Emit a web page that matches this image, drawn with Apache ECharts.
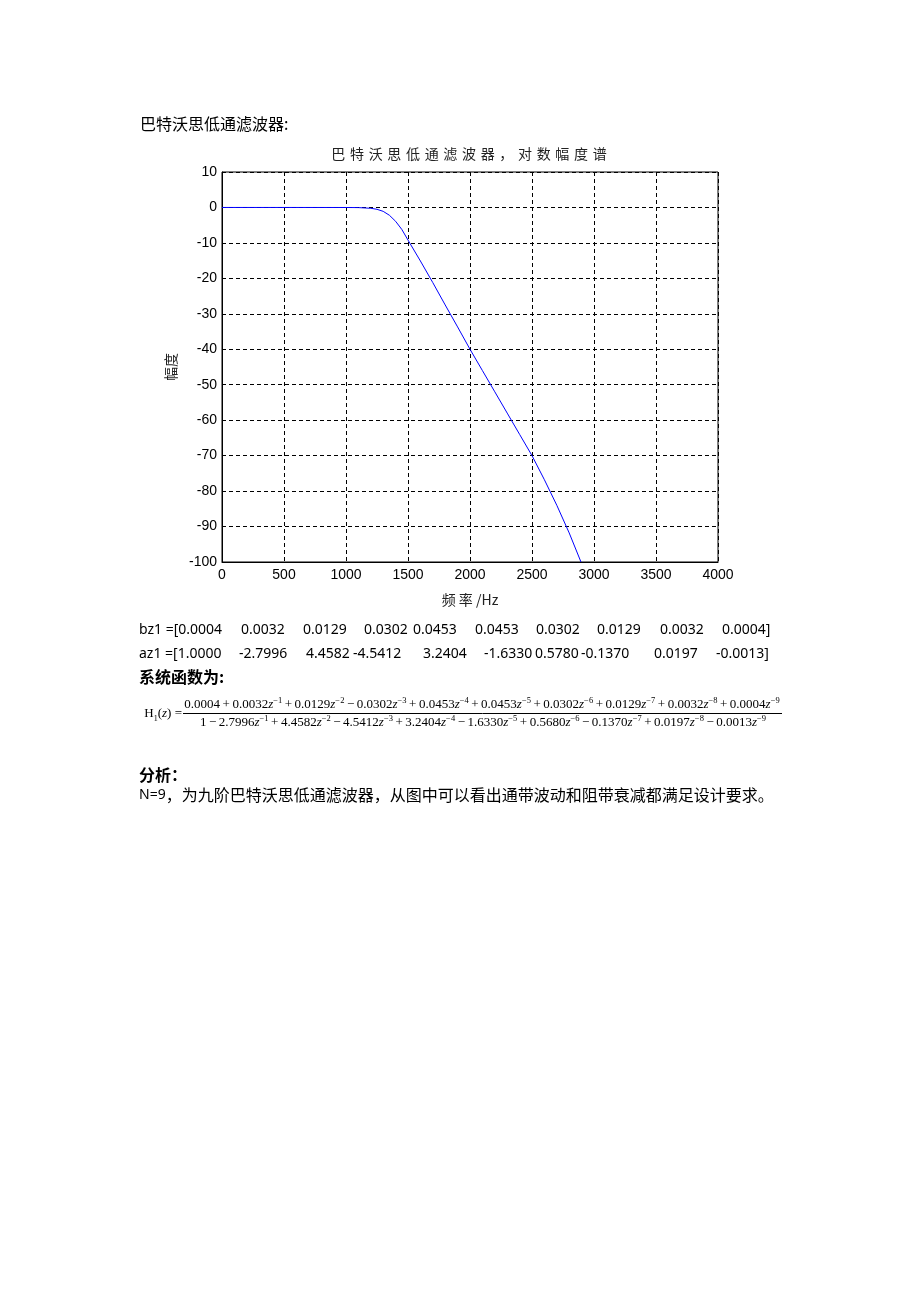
<!DOCTYPE html>
<html><head><meta charset="utf-8">
<script src="https://cdn.jsdelivr.net/npm/echarts@6/dist/echarts.min.js"></script>
<style>html,body{margin:0;padding:0;background:#fff}#c{width:920px;height:1302px}</style>
</head><body><div id="c"></div>
<script>
// ---- chart data ----
var freqHz = [0, 500, 1000, 1100, 1200, 1250, 1300, 1350, 1400, 1450, 1500, 1600, 1700, 1800, 1900, 2000, 2100, 2200, 2300, 2400, 2500, 2600, 2700, 2800, 2895];
var magDb  = [0, 0, -0.01, -0.04, -0.23, -0.52, -1.1, -2.2, -3.9, -6.2, -9.2, -15.1, -21.2, -27.5, -33.7, -40.0, -46.0, -52.0, -58.0, -64.0, -70.0, -76.8, -84.0, -91.8, -100];
var xTicks = [0, 500, 1000, 1500, 2000, 2500, 3000, 3500, 4000];
var yTicks = [10, 0, -10, -20, -30, -40, -50, -60, -70, -80, -90, -100];

// ---- text data ----
var bz1 = ['0.0004', '0.0032', '0.0129', '0.0302', '0.0453', '0.0453', '0.0302', '0.0129', '0.0032', '0.0004'];
var az1 = ['1.0000', '-2.7996', '4.4582', '-4.5412', '3.2404', '-1.6330', '0.5780', '-0.1370', '0.0197', '-0.0013'];
var numCoef = ['0.0004', '0.0032', '0.0129', '0.0302', '0.0453', '0.0453', '0.0302', '0.0129', '0.0032', '0.0004'];
var numOps  = ['+', '+', '\u2212', '+', '+', '+', '+', '+', '+'];
var denCoef = ['1', '2.7996', '4.4582', '4.5412', '3.2404', '1.6330', '0.5680', '0.1370', '0.0197', '0.0013'];
var denOps  = ['\u2212', '+', '\u2212', '+', '\u2212', '+', '\u2212', '+', '\u2212'];
var titleText = '巴特沃思低通滤波器，对数幅度谱';

// ---- layout (token x positions) ----
var bzX = [139, 241, 303, 364, 413, 475, 536, 597, 660, 722];
var azX = [139, 239, 306, 353, 423, 484, 535, 581, 654, 716];

var pairs = freqHz.map(function (f, i) { return [f, magDb[i]]; });

var latin = '"Noto Sans", "Open Sans", sans-serif';
var cjk = '"Noto Sans CJK SC", sans-serif';

var graphics = [];
function txt(t, x, y, opts) {
  opts = opts || {};
  graphics.push({
    type: 'text', silent: true,
    style: Object.assign({
      text: t, x: x, y: y, fill: '#000',
      fontSize: 16, fontFamily: cjk,
      align: 'left', verticalAlign: 'middle'
    }, opts)
  });
}
txt('巴特沃思低通滤波器:', 140, 124);
// MATLAB-style spaced title
txt(titleText.split('').join('\u2004'), 469, 154, { align: 'center', fontSize: 14, fill: '#222' });

bz1.forEach(function (v, i) {
  var t = v;
  if (i === 0) t = 'bz1 =[' + t;
  if (i === bz1.length - 1) t = t + ']';
  txt(t, bzX[i], 630, { fontFamily: latin, fontSize: 14 });
});
az1.forEach(function (v, i) {
  var t = v;
  if (i === 0) t = 'az1 =[' + t;
  if (i === az1.length - 1) t = t + ']';
  txt(t, azX[i], 654, { fontFamily: latin, fontSize: 14 });
});
txt('系统函数为:', 139, 677, { fontWeight: 'bold' });
txt('分析：', 139, 775, { fontWeight: 'bold' });
graphics.push({
  type: 'text', silent: true,
  style: {
    text: '{a|N=9}{b|，为九阶巴特沃思低通滤波器，从图中可以看出通带波动和阻带衰减都满足设计要求。}',
    x: 139, y: 795, fill: '#000', align: 'left', verticalAlign: 'middle',
    rich: {
      a: { fontFamily: latin, fontSize: 14, fill: '#000' },
      b: { fontFamily: cjk, fontSize: 16, fill: '#000' }
    }
  }
});

// formula
var serif = '"Liberation Serif", "DejaVu Serif", serif';
var richF = {
  n: { fontFamily: serif, fontSize: 13, lineHeight: 17, fill: '#000' },
  o: { fontFamily: serif, fontSize: 13, lineHeight: 17, padding: [0, 2.5], fill: '#000' },
  z: { fontFamily: serif, fontSize: 13, lineHeight: 17, fontStyle: 'italic', fill: '#000' },
  s: { fontFamily: serif, fontSize: 8.5, lineHeight: 9, verticalAlign: 'top', fill: '#000' },
  h: { fontFamily: serif, fontSize: 13, lineHeight: 17, fill: '#000' },
  hs: { fontFamily: serif, fontSize: 8, lineHeight: 8, verticalAlign: 'bottom', fill: '#000' },
  hz: { fontFamily: serif, fontSize: 13, lineHeight: 17, fontStyle: 'italic', fill: '#000' }
};
function buildPoly(coefs, ops) {
  var s = '{n|' + coefs[0] + '}';
  for (var i = 1; i < coefs.length; i++) {
    s += '{o|' + ops[i - 1] + '}{n|' + coefs[i] + '}{z|z}{s|\u2212' + i + '}';
  }
  return s;
}
graphics.push({ type: 'text', silent: true, style: { text: buildPoly(numCoef, numOps), x: 482, y: 705, align: 'center', verticalAlign: 'middle', rich: richF } });
graphics.push({ type: 'text', silent: true, style: { text: buildPoly(denCoef, denOps), x: 483, y: 723, align: 'center', verticalAlign: 'middle', rich: richF } });
graphics.push({ type: 'line', silent: true, shape: { x1: 183, y1: 713.5, x2: 782, y2: 713.5 }, style: { stroke: '#000', lineWidth: 1 } });
graphics.push({ type: 'text', silent: true, style: { text: '{h|H}{hs|1}{h|(}{hz|z}{h|) =}', x: 182, y: 714, align: 'right', verticalAlign: 'middle', rich: richF } });

var chart = echarts.init(document.getElementById('c'), null, { renderer: 'canvas' });
var plain = function (v) { return String(v); };
chart.setOption({
  backgroundColor: '#fff',
  animation: false,
  grid: { left: 222, top: 172, width: 496, height: 390, show: true, borderColor: '#000', borderWidth: 1, backgroundColor: '#fff' },
  xAxis: {
    type: 'value', min: xTicks[0], max: xTicks[xTicks.length - 1], interval: xTicks[1] - xTicks[0],
    name: '频 率 /Hz', nameLocation: 'middle', nameGap: 31,
    nameTextStyle: { fontFamily: cjk, fontSize: 14, color: '#222' },
    axisLine: { show: true, onZero: false, lineStyle: { color: '#000', width: 1 } },
    axisTick: { show: false },
    axisLabel: { color: '#000', fontFamily: '"Liberation Sans", Arial, sans-serif', fontSize: 14, margin: 6, formatter: plain },
    splitLine: { show: true, lineStyle: { color: '#000', width: 1, type: [4, 3] } }
  },
  yAxis: {
    type: 'value', min: yTicks[yTicks.length - 1], max: yTicks[0], interval: yTicks[0] - yTicks[1],
    name: '幅度', nameLocation: 'middle', nameGap: 44, nameRotate: 90,
    nameTextStyle: { fontFamily: cjk, fontSize: 14, color: '#222' },
    axisLine: { show: true, onZero: false, lineStyle: { color: '#000', width: 1 } },
    axisTick: { show: false },
    axisLabel: { color: '#000', fontFamily: '"Liberation Sans", Arial, sans-serif', fontSize: 14, margin: 5, formatter: plain },
    splitLine: { show: true, lineStyle: { color: '#000', width: 1, type: [4, 3] } }
  },
  series: [{
    type: 'line', data: pairs, showSymbol: false, clip: true, smooth: false,
    lineStyle: { color: '#0000ff', width: 1 }, silent: true
  }],
  graphic: { elements: graphics }
});
</script></body></html>
